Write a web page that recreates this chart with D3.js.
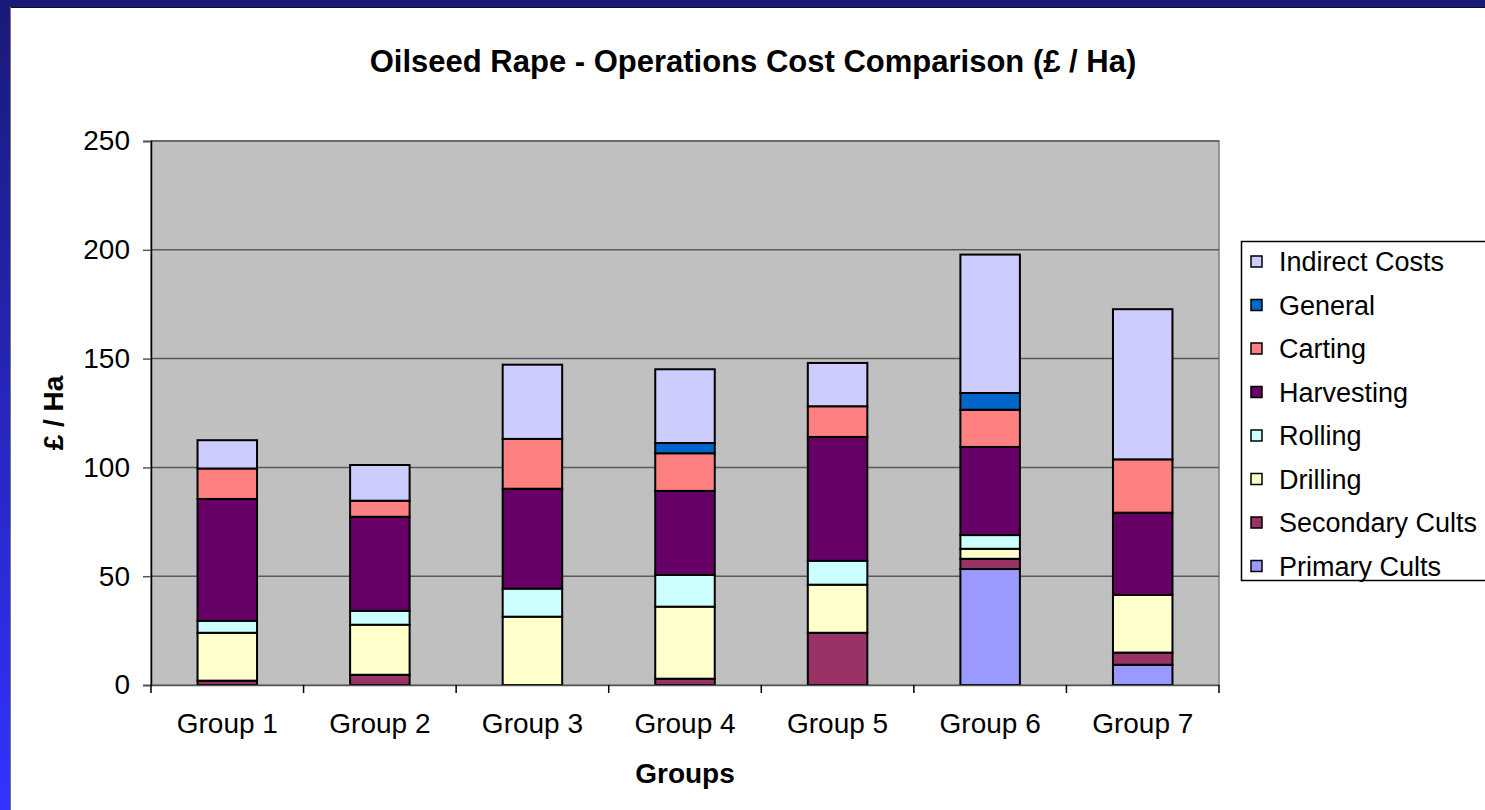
<!DOCTYPE html>
<html>
<head>
<meta charset="utf-8">
<script src="https://cdn.jsdelivr.net/npm/d3@7"></script>
<style>
  body { margin: 0; background: #fff; }
  svg { display: block; font-family: "Liberation Sans", Arial, sans-serif; }
</style>
</head>
<body>
<svg id="chart" width="1485" height="810"></svg>
<script>
// Categories and series (£ / Ha).
const groups = ["Group 1", "Group 2", "Group 3", "Group 4", "Group 5", "Group 6", "Group 7"];
const seriesNames = ["Primary Cults", "Secondary Cults", "Drilling", "Rolling", "Harvesting", "Carting", "General", "Indirect Costs"];
const seriesColors = ["#9999ff", "#993366", "#ffffcc", "#ccffff", "#660066", "#ff8080", "#0066cc", "#ccccff"];

const primaryCults   = [0,   0,    0,    0,    0,    53.3, 9.3];
const secondaryCults = [2,   4.7,  0,    2.9,  24,   4.7,  5.6];
const drilling       = [22,  23,   31.4, 33.1, 22.1, 4.6,  26.5];
const rolling        = [5.5, 6.4,  12.9, 14.6, 11,   6.3,  0];
const harvesting     = [56,  43.2, 45.9, 38.6, 56.9, 40.5, 37.8];
const carting        = [14,  7.4,  22.9, 17.3, 14.1, 17.1, 24.5];
const general        = [0,   0,    0,    4.7,  0,    7.7,  0];
const indirectCosts  = [13,  16.4, 34.1, 33.9, 19.9, 63.6, 69];

const yTicks = [0, 50, 100, 150, 200, 250];

const seriesValues = [primaryCults, secondaryCults, drilling, rolling, harvesting, carting, general, indirectCosts];

// build rows for d3.stack
const rows = groups.map((g, i) => {
  let r = {group: g};
  seriesNames.forEach((s, j) => r[s] = seriesValues[j][i]);
  return r;
});

const svg = d3.select("#chart");
const W = 1485, H = 810;

// frame: navy top band, blue gradient down the left
const defs = svg.append("defs");
const grad = defs.append("linearGradient").attr("id", "sideGrad")
  .attr("x1", 0).attr("y1", 0).attr("x2", 0).attr("y2", 1);
grad.append("stop").attr("offset", "0%").attr("stop-color", "#1a1a78");
grad.append("stop").attr("offset", "100%").attr("stop-color", "#3333ff");

svg.append("rect").attr("x", 0).attr("y", 0).attr("width", W).attr("height", H).attr("fill", "url(#sideGrad)");
svg.append("rect").attr("x", 0).attr("y", 0).attr("width", W).attr("height", 7).attr("fill", "#1a1a78");
svg.append("rect").attr("x", 10).attr("y", 7).attr("width", W - 10).attr("height", H - 7).attr("fill", "#fff");
svg.append("line").attr("x1", 10).attr("x2", W).attr("y1", 7.5).attr("y2", 7.5).attr("stroke", "#111").attr("stroke-width", 1);
svg.append("line").attr("x1", 10.5).attr("x2", 10.5).attr("y1", 7).attr("y2", H).attr("stroke", "#777").attr("stroke-width", 1);

const plot = {left: 151, right: 1219, top: 141, bottom: 685};

const x = d3.scaleBand().domain(groups).range([plot.left, plot.right]).padding(0);
const y = d3.scaleLinear().domain([0, 250]).range([plot.bottom, plot.top]);
const barW = x.bandwidth() * 0.39;

// plot background
svg.append("rect")
  .attr("x", plot.left).attr("y", plot.top)
  .attr("width", plot.right - plot.left).attr("height", plot.bottom - plot.top)
  .attr("fill", "#c0c0c0")
  .attr("stroke", "#808080").attr("stroke-width", 1.5);

// gridlines
svg.append("g")
  .selectAll("line")
  .data(yTicks.filter(t => t > 0))
  .join("line")
    .attr("x1", plot.left).attr("x2", plot.right)
    .attr("y1", d => y(d)).attr("y2", d => y(d))
    .attr("stroke", "#5a5a5a").attr("stroke-width", 1.5);

// stacked bars
const stack = d3.stack().keys(seriesNames);
const layers = stack(rows);

svg.append("g")
  .selectAll("g")
  .data(layers)
  .join("g")
    .attr("fill", (d, i) => seriesColors[i])
  .selectAll("rect")
  .data(d => d.filter(p => p[1] - p[0] > 0))
  .join("rect")
    .attr("x", d => x(d.data.group) + (x.bandwidth() - barW) / 2)
    .attr("y", d => y(d[1]))
    .attr("width", barW)
    .attr("height", d => y(d[0]) - y(d[1]))
    .attr("stroke", "#000")
    .attr("stroke-width", 2);

// axes
const yAxis = svg.append("g")
  .attr("transform", `translate(${plot.left},0)`)
  .call(d3.axisLeft(y).tickValues(yTicks).tickSize(8).tickPadding(13));
yAxis.select(".domain").attr("stroke", "#000").attr("stroke-width", 1.5);
yAxis.selectAll(".tick line").attr("stroke", "#555").attr("stroke-width", 1.5);
yAxis.selectAll("text").attr("font-size", 28).attr("fill", "#000").attr("font-family", "Liberation Sans, Arial");

const xAxis = svg.append("g")
  .attr("transform", `translate(0,${plot.bottom})`)
  .call(d3.axisBottom(x).tickSize(0).tickPadding(28));
xAxis.select(".domain").attr("stroke", "#555").attr("stroke-width", 1.5);
xAxis.selectAll("text").attr("font-size", 28).attr("fill", "#000").attr("font-family", "Liberation Sans, Arial");

// category separator ticks
const sepX = groups.map(g => x(g)).concat([plot.right]);
svg.append("g")
  .selectAll("line")
  .data(sepX)
  .join("line")
    .attr("x1", d => d).attr("x2", d => d)
    .attr("y1", plot.bottom).attr("y2", plot.bottom + 8)
    .attr("stroke", "#000").attr("stroke-width", 1.5);

// titles
svg.append("text")
  .attr("x", 753).attr("y", 72)
  .attr("text-anchor", "middle")
  .attr("font-size", 31).attr("font-weight", "bold")
  .text("Oilseed Rape - Operations Cost Comparison (£ / Ha)");

svg.append("text")
  .attr("x", (plot.left + plot.right) / 2).attr("y", 783)
  .attr("text-anchor", "middle")
  .attr("font-size", 28).attr("font-weight", "bold")
  .text("Groups");

svg.append("text")
  .attr("transform", `translate(63,${(plot.top + plot.bottom) / 2}) rotate(-90)`)
  .attr("text-anchor", "middle")
  .attr("font-size", 28).attr("font-weight", "bold")
  .text("£ / Ha");

// legend (top entry is the top of the stack)
const legend = svg.append("g");
legend.append("rect")
  .attr("x", 1241.5).attr("y", 241.5)
  .attr("width", 300).attr("height", 339)
  .attr("fill", "#fff").attr("stroke", "#000").attr("stroke-width", 1.5);

const legendItems = seriesNames.map((s, i) => ({name: s, color: seriesColors[i]})).reverse();
const li = legend.selectAll("g.item")
  .data(legendItems)
  .join("g")
    .attr("class", "item")
    .attr("transform", (d, i) => `translate(1251,${271 + i * 43.5})`);
li.append("rect")
  .attr("x", 0).attr("y", -15).attr("width", 11).attr("height", 11)
  .attr("fill", d => d.color).attr("stroke", "#000").attr("stroke-width", 1.5);
li.append("text")
  .attr("x", 28).attr("y", 0)
  .attr("font-size", 27)
  .text(d => d.name);
</script>
</body>
</html>
